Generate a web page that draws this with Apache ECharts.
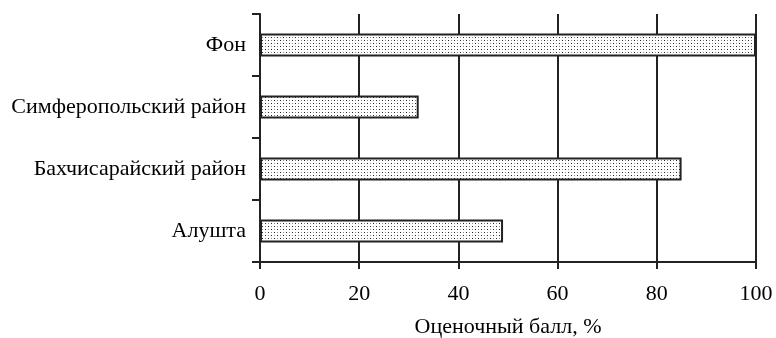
<!DOCTYPE html>
<html><head><meta charset="utf-8">
<script src="https://cdn.jsdelivr.net/npm/echarts@6/dist/echarts.min.js"></script>
<style>html,body{margin:0;padding:0;background:#fff}#c{width:776px;height:338px}</style>
</head><body><div id="c"></div>
<script>
const categories = ['Алушта', 'Бахчисарайский район', 'Симферопольский район', 'Фон'];
const values = [49, 85, 32, 100];
const xTicks = [0, 20, 40, 60, 80, 100];
const xName = 'Оценочный балл, %';

function dotPattern() {
  const c = document.createElement('canvas');
  c.width = 6; c.height = 6;
  const g = c.getContext('2d');
  g.fillStyle = '#fff'; g.fillRect(0, 0, 6, 6);
  g.fillStyle = '#222';
  g.fillRect(1, 1, 1, 1);
  g.fillRect(4, 4, 1, 1);
  g.fillStyle = '#888';
  g.fillRect(4, 1, 1, 1);
  g.fillRect(1, 4, 1, 1);
  return c;
}

const font = '"Liberation Serif", "Times New Roman", serif';
const chart = echarts.init(document.getElementById('c'));
chart.setOption({
  animation: false,
  grid: { left: 260, right: 20, top: 14, bottom: 76, containLabel: false, outerBoundsMode: 'none' },
  xAxis: {
    type: 'value', min: xTicks[0], max: xTicks[xTicks.length - 1], interval: 20,
    name: xName, nameLocation: 'middle', nameGap: 54,
    nameTextStyle: { fontFamily: font, fontSize: 22, color: '#000' },
    axisLine: { show: true, lineStyle: { color: '#222', width: 2 } },
    axisTick: { show: true, length: 7, lineStyle: { color: '#222', width: 2 } },
    splitLine: { show: true, lineStyle: { color: '#222', width: 2 } },
    axisLabel: { fontFamily: font, fontSize: 22, color: '#000', margin: 21 }
  },
  yAxis: {
    type: 'category', data: categories,
    axisLine: { show: true, lineStyle: { color: '#222', width: 2 } },
    axisTick: { show: true, length: 8, lineStyle: { color: '#222', width: 2 } },
    axisLabel: { fontFamily: font, fontSize: 22, color: '#000', margin: 14 }
  },
  series: [{
    type: 'bar', data: values, barWidth: 23,
    itemStyle: { color: { image: dotPattern(), repeat: 'repeat' }, borderColor: '#222', borderWidth: 2 }
  }]
});
</script></body></html>
